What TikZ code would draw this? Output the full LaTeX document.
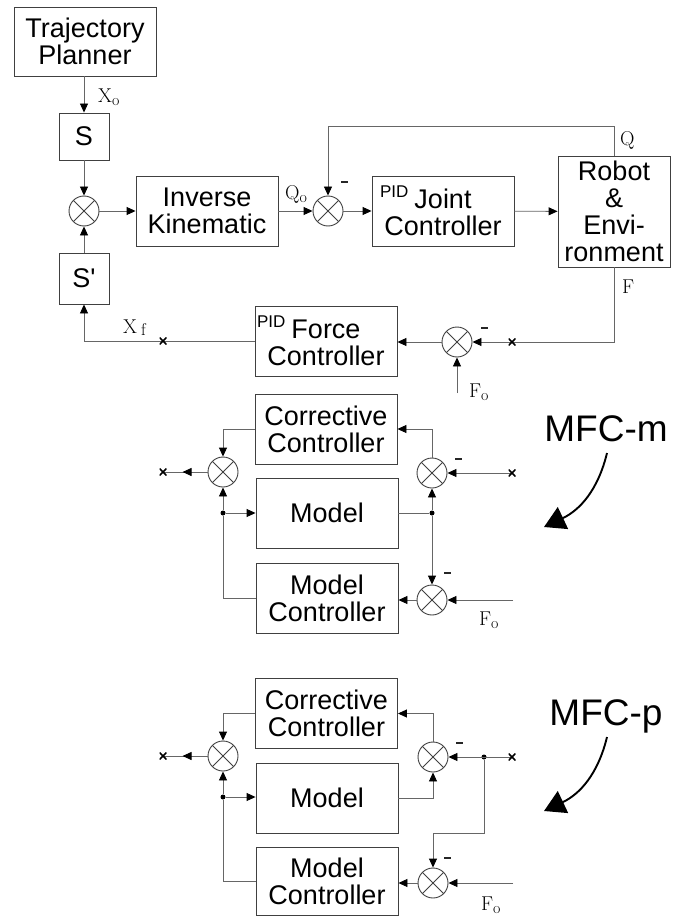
\documentclass[tikz,border=0pt]{standalone}
\usepackage{fontspec}
\newfontfamily\sansf{Liberation Sans}
\usetikzlibrary{arrows.meta}
\newcommand\mtext{\sansf\fontsize{27}{27}\selectfont}
\newcommand\pidf{\sansf\fontsize{17}{17}\selectfont}
\newcommand\pidlab{\llap{\raisebox{11pt}{\pidf PID}\hspace{6pt}}}
\newcommand\subo{\raisebox{-3pt}{\fontsize{16}{16}\selectfont o}}
\tikzset{
  box/.style={draw=black!75, line width=0.9pt, minimum width=142pt, minimum height=70pt, inner sep=0pt, align=center, font=\mtext},
  sumj/.style={circle, draw=black!75, line width=0.9pt, minimum size=30pt, inner sep=0pt,
    path picture={\draw[line width=0.8pt, black!75] (path picture bounding box.north west) -- (path picture bounding box.south east) (path picture bounding box.north east) -- (path picture bounding box.south west);}},
  con/.style={draw=black!60, line width=0.9pt},
  arr/.style={con, -{Triangle[length=9pt,width=8pt,color=black]}},
  lab/.style={font=\fontsize{20}{20}\selectfont, inner sep=0pt, anchor=base west},
  minus/.style={rectangle, fill=black!85, minimum width=7pt, minimum height=1.5pt, inner sep=0pt},
  jdot/.style={circle, fill=black, minimum size=5pt, inner sep=0pt},
  xm/.style={rectangle, minimum size=7pt, inner sep=0pt,
    path picture={\draw[line width=1.5pt,black] (path picture bounding box.north west) -- (path picture bounding box.south east) (path picture bounding box.north east) -- (path picture bounding box.south west);}},
  mfc/.style={font=\sansf\fontsize{37}{37}\selectfont, inner sep=0pt, anchor=base},
  bigarr/.style={line width=1.9pt, -{Triangle[length=21pt,width=24pt]}}
}
\begin{document}
\begin{tikzpicture}[x=1pt,y=-1pt]
\fill[white] (0,0) rectangle (682,917);
\useasboundingbox (0,0) rectangle (682,917);

% ---------- top loop ----------
\node[box, minimum width=142pt, minimum height=69pt] (tp) at (85,41.5) {Trajectory\\Planner};
\node[box, minimum width=50pt, minimum height=47pt] (s) at (84,136.5) {S};
\node[sumj] (s1) at (84,211) {};
\node[box, minimum width=50pt, minimum height=51pt] (sp) at (84,278.5) {S'};
\node[box] (ik) at (207,211) {Inverse\\Kinematic};
\node[sumj] (s2) at (328,211) {};
\node[box] (jc) at (443,211) {\pidlab Joint\\Controller};
\node[box, minimum width=112pt, minimum height=111pt] (rob) at (614,211.5) {Robot\\\&\\Envi-\\ronment};
\node[sumj] (s3) at (457,342) {};
\node[box] (fc) at (326,341) {\pidlab Force\\Controller};
\coordinate (cxa) at (512,342);
\coordinate (cxb) at (163,341);
\coordinate (foa) at (457,393);

\draw[arr] (s.north |- tp.south) -- (s.north);
\draw[arr] (s) -- (s1);
\draw[arr] (sp) -- (s1);
\draw[arr] (s1) -- (ik);
\draw[arr] (ik) -- (s2);
\draw[arr] (s2) -- (jc);
\draw[arr] (jc) -- (rob);
\draw[arr] (rob.north) -- ++(0,-29) -| (s2.north);
\draw[arr] (rob.south) |- (s3.east);
\draw[arr] (s3.west) -- (s3.west -| fc.east);
\draw[arr] (fc.west) -| (sp.south);
\draw[arr] (foa) -- (s3.south);

\node[lab] (lxo) at (98,103) {X\subo};
\node[lab] (lqo) at (285,200) {Q\subo};
\node[lab] (lq) at (620,146) {Q};
\node[lab] (lf) at (622,293) {F};
\node[lab] (lfo) at (469,397) {F\subo};
\node[lab] (lxf) at (123,333) {X\hspace{4pt}\raisebox{-2pt}{\fontsize{17}{17}\selectfont f}};
\node[minus] (ma) at (344,182) {};
\node[minus] (mb) at (484,328) {};
\node[xm] (xa) at (cxa) {};
\node[xm] (xb) at (cxb) {};

% ---------- MFC-m ----------
\node[box] (cc1) at (326,429) {Corrective\\Controller};
\node[box] (mo1) at (327,513) {Model};
\node[box] (mc1) at (327,598) {Model\\Controller};
\node[sumj] (sl1) at (223,472) {};
\node[sumj] (sr1) at (432,473) {};
\node[sumj] (sb1) at (432,600) {};
\node[jdot] (dl1) at (223,513) {};
\node[jdot] (dr1) at (432,513) {};
\coordinate (co1) at (163,472);
\coordinate (ci1) at (512,473);
\coordinate (fi1) at (513,600);

\draw[arr] (cc1.west) -| (sl1.north);
\draw[con] (sl1.west) -- (co1);
\draw[arr] (sl1.west) -- ++(-25,0);
\draw[arr] (dl1) -- (dl1 -| mo1.west);
\draw[arr] (dl1) -- (sl1.south);
\draw[con] (dl1) |- (mc1.west);
\draw[arr] (ci1) -- (sr1.east);
\draw[arr] (sr1.north) |- (cc1.east);
\draw[con] (mo1.east) -- (dr1);
\draw[arr] (dr1) -- (sr1.south);
\draw[arr] (dr1) -- (sb1.north);
\draw[arr] (sb1.west) -- (sb1.west -| mc1.east);
\draw[arr] (fi1) -- (sb1.east);
\node[minus] (mc) at (458,459) {};
\node[minus] (md) at (447,573) {};
\node[lab] (lfo1) at (479,625) {F\subo};
\node[xm] (xc) at (co1) {};
\node[xm] (xd) at (ci1) {};

\node[mfc] (mfcm) at (606,441) {MFC-m};
\coordinate (am0) at (607,453);
\coordinate (am1) at (544,527);
\draw[bigarr] (am0) .. controls (598,490) and (580,510) .. (am1);

% ---------- MFC-p ----------
\node[box] (cc2) at (326.5,713.5) {Corrective\\Controller};
\node[box] (mo2) at (327,798) {Model};
\node[box, minimum height=68pt] (mc2) at (327,881) {Model\\Controller};
\node[sumj] (sl2) at (223,756) {};
\node[sumj] (sr2) at (433,757) {};
\node[sumj] (sb2) at (433,883) {};
\node[jdot] (dl2) at (223,797) {};
\node[jdot] (dj2) at (484,757) {};
\coordinate (co2) at (163,756);
\coordinate (ci2) at (512,757);
\coordinate (fi2) at (513,883);
\coordinate (bend2) at (484,833);

\draw[arr] (cc2.west) -| (sl2.north);
\draw[con] (sl2.west) -- (co2);
\draw[arr] (sl2.west) -- ++(-25,0);
\draw[arr] (dl2) -- (dl2 -| mo2.west);
\draw[arr] (dl2) -- (sl2.south);
\draw[con] (dl2) |- (mc2.west);
\draw[arr] (ci2) -- (sr2.east);
\draw[arr] (sr2.north) |- (cc2.east);
\draw[arr] (mo2.east) -| (sr2.south);
\draw[arr] (dj2) -- (bend2) -| (sb2.north);
\draw[arr] (sb2.west) -- (sb2.west -| mc2.east);
\draw[arr] (fi2) -- (sb2.east);
\node[minus] (me) at (459,743) {};
\node[minus] (mf) at (447,858) {};
\node[lab] (lfo2) at (481,910) {F\subo};
\node[xm] (xe) at (co2) {};
\node[xm] (xf) at (ci2) {};

\node[mfc] (mfcp) at (606,725) {MFC-p};
\coordinate (ap0) at (607,737);
\coordinate (ap1) at (544,811);
\draw[bigarr] (ap0) .. controls (598,774) and (580,794) .. (ap1);
\end{tikzpicture}
\end{document}
